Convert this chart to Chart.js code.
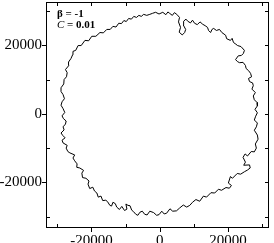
<!DOCTYPE html>
<html>
<head>
<meta charset="utf-8">
<script src="https://cdn.jsdelivr.net/npm/chart.js@4"></script>
<style>
  html, body { margin: 0; padding: 0; background: #fff; }
  #wrap { width: 274px; height: 243px; }
</style>
</head>
<body>
<div id="wrap"><canvas id="chart" width="274" height="243"></canvas></div>
<script>
// cluster boundary in four arcs, clockwise from the top
const neX = [900, 1800, 2400, 2900, 3700, 4300, 5000, 5800, 5500, 6100,
  5700, 6600, 7300, 7600, 6900, 7000, 7700, 8200, 9000, 9600,
  10200, 11000, 11800, 12600, 13300, 14000, 14300, 14900, 15300, 15800,
  16600, 17500, 18200, 19300, 19600, 20700, 21200, 21600, 22300, 22800,
  23800, 24800, 24500, 23900, 23000, 22200, 22800, 23400, 24400, 25100,
  25300, 26000, 26600, 26900, 26000, 26300, 27200, 27400, 27000, 28000,
  27400, 27700, 28500, 28600, 27900, 28600];
const neY = [29600, 28900, 29700, 29300, 28700, 29500, 29000, 28100, 26800, 25200,
  23800, 23000, 23700, 24600, 25900, 27000, 27600, 27000, 26500, 27300,
  26400, 26000, 26800, 26100, 25700, 25200, 24300, 23700, 24600, 24900,
  24300, 24600, 23700, 22900, 21900, 21400, 22000, 20800, 20300, 19900,
  19600, 18500, 17600, 17000, 16900, 15800, 15200, 14900, 15000, 14100,
  13200, 12600, 11800, 10800, 10300, 9400, 9000, 8200, 7200, 6200,
  5200, 4100, 3300, 2300, 1300, 300];

const seX = [28100, 27700, 28600, 28300, 27700, 28600, 28800, 28000, 28300, 27700,
  26800, 25700, 25000, 24400, 25100, 24600, 26300, 26500, 25700, 24800,
  23700, 22700, 21300, 20700, 20100, 21000, 20400, 19400, 18100, 17200,
  16100, 15000, 13700, 12800, 11700, 10600, 9600, 8800, 7900, 6900,
  5800, 4900, 3800, 3000, 2000, 1300, 600, -200];
const seY = [-700, -1800, -2700, -3800, -4800, -6200, -7400, -8800, -10000, -11100,
  -11000, -12300, -11700, -12700, -14100, -15000, -14900, -15800, -16400, -16900,
  -17600, -17400, -18800, -18300, -20200, -20900, -21700, -21500, -22300, -22000,
  -23100, -23000, -24300, -24000, -25500, -25000, -25800, -26700, -27200, -26600,
  -27500, -28300, -28400, -27700, -29000, -29200, -28400, -29400];

const swX = [-900, -1800, -2900, -3700, -4400, -5100, -5800, -6400, -7000, -7700,
  -8200, -8700, -9300, -9900, -9600, -10300, -11100, -11800, -12600, -13000,
  -13700, -14100, -14600, -15300, -15800, -16700, -17200, -18000, -18400, -19100,
  -19600, -20500, -21000, -20700, -21600, -22600, -22800, -22300, -23400, -24300,
  -24200, -24900, -25400, -24900, -26300, -26900, -27400, -27100, -28300, -28600,
  -27700, -28400, -28900, -28000, -28300, -27600, -27400, -28200, -28600];
const swY = [-29600, -28800, -28400, -29500, -29300, -28400, -28700, -29600, -29300, -28500,
  -28100, -26800, -26700, -26300, -27800, -28200, -27000, -27900, -27200, -26200,
  -25800, -26900, -26700, -25600, -25200, -25300, -24000, -24300, -23100, -22500,
  -21400, -21800, -20500, -19600, -18800, -18600, -17300, -16500, -15800, -15600,
  -14600, -13700, -12900, -12000, -11400, -11000, -10000, -9200, -8500, -7700,
  -7000, -6300, -5600, -4700, -3800, -3000, -2100, -1400, -600];

const nwX = [-27800, -28300, -28900, -28600, -27900, -28300, -28900, -28900, -28100, -28000,
  -27300, -27100, -27600, -26600, -26700, -26000, -25500, -25400, -24600, -23900,
  -23000, -21900, -20800, -19900, -18700, -17500, -16500, -15500, -14500, -13700,
  -12800, -12000, -11200, -10500, -9800, -9100, -8300, -7600, -6800, -6100,
  -5400, -4700, -3800, -2900, -2100, -1200, -200, 900];
const nwY = [400, 1500, 2500, 3500, 4400, 5600, 6500, 7600, 8700, 10000,
  10800, 12000, 12900, 14100, 15100, 16100, 17200, 18200, 18500, 19900,
  19900, 21400, 21300, 22600, 22600, 23700, 23600, 24600, 24600, 25500,
  25300, 26400, 26300, 27200, 26900, 27800, 27600, 28400, 28100, 28700,
  28400, 29000, 28700, 29000, 29300, 29600, 29100, 29600];

const xRange = [-33300, 32000];
const yRange = [-33300, 32600];
const xTicks = [-30000, -20000, -10000, 0, 10000, 20000, 30000];
const yTicks = [-30000, -20000, -10000, 0, 10000, 20000, 30000];
const majorStep = 20000;

const arcs = [[neX, neY], [seX, seY], [swX, swY], [nwX, nwY]];
const points = arcs.flatMap(([xs, ys]) => xs.map((x, i) => ({ x: x, y: ys[i] })));

// frame, in/out tick marks and the parameter note
const framePlugin = {
  id: "frame",
  afterDraw(chart) {
    const ctx = chart.ctx;
    const a = chart.chartArea;
    const xs = chart.scales.x;
    const ys = chart.scales.y;
    ctx.save();
    ctx.strokeStyle = "#000";
    ctx.lineWidth = 1;
    ctx.strokeRect(a.left + 0.5, a.top + 0.5, a.right - a.left - 1, a.bottom - a.top - 1);
    ctx.beginPath();
    xs.ticks.forEach((t) => {
      const px = Math.round(xs.getPixelForValue(t.value)) + 0.5;
      if (t.value % majorStep === 0) {
        ctx.moveTo(px, a.bottom); ctx.lineTo(px, a.bottom + 4);
      } else {
        ctx.moveTo(px, a.bottom); ctx.lineTo(px, a.bottom - 4);
      }
      ctx.moveTo(px, a.top); ctx.lineTo(px, a.top + 4);
    });
    ys.ticks.forEach((t) => {
      const py = Math.round(ys.getPixelForValue(t.value)) + 0.5;
      if (t.value % majorStep === 0) {
        ctx.moveTo(a.left, py); ctx.lineTo(a.left - 4, py);
      } else {
        ctx.moveTo(a.left, py); ctx.lineTo(a.left + 4, py);
      }
      ctx.moveTo(a.right, py); ctx.lineTo(a.right - 4, py);
    });
    ctx.stroke();

    ctx.fillStyle = "#000";
    ctx.textBaseline = "middle";
    ctx.textAlign = "left";
    ctx.font = "bold 11px 'Liberation Serif'";
    ctx.fillText("\u03b2 = -1", a.left + 11, a.top + 12);
    ctx.font = "italic 11px 'Liberation Serif'";
    ctx.fillText("C", a.left + 11, a.top + 23);
    const cw = ctx.measureText("C").width;
    ctx.font = "bold 11px 'Liberation Serif'";
    ctx.fillText(" = 0.01", a.left + 11 + cw, a.top + 23);
    ctx.restore();
  }
};

const tickLabel = (v) => (v % majorStep === 0 ? String(v) : "");
const tickFont = { family: "'Liberation Serif', serif", size: 15 };

new Chart(document.getElementById("chart"), {
  type: "scatter",
  data: {
    datasets: [{
      data: points,
      showLine: true,
      borderColor: "#000",
      borderWidth: 1,
      pointRadius: 0,
      tension: 0,
      fill: false
    }]
  },
  options: {
    responsive: false,
    animation: false,
    devicePixelRatio: 1,
    layout: { padding: { top: 2, right: 5, left: 0, bottom: 0 } },
    plugins: { legend: { display: false }, tooltip: { enabled: false } },
    scales: {
      x: {
        type: "linear",
        min: xRange[0],
        max: xRange[1],
        grid: { display: false, drawTicks: false },
        border: { display: false },
        ticks: { callback: tickLabel, color: "#000", font: tickFont, padding: 4, maxRotation: 0, autoSkip: false },
        afterBuildTicks(scale) { scale.ticks = xTicks.map((v) => ({ value: v })); },
        afterFit(scale) { scale.height = 15; scale.paddingLeft = 0; scale.paddingRight = 0; }
      },
      y: {
        type: "linear",
        min: yRange[0],
        max: yRange[1],
        grid: { display: false, drawTicks: false },
        border: { display: false },
        ticks: { callback: tickLabel, color: "#000", font: tickFont, padding: 4, autoSkip: false },
        afterBuildTicks(scale) { scale.ticks = yTicks.map((v) => ({ value: v })); },
        afterFit(scale) { scale.width = 46; scale.paddingTop = 0; scale.paddingBottom = 0; }
      }
    }
  },
  plugins: [framePlugin]
});
</script>
</body>
</html>
